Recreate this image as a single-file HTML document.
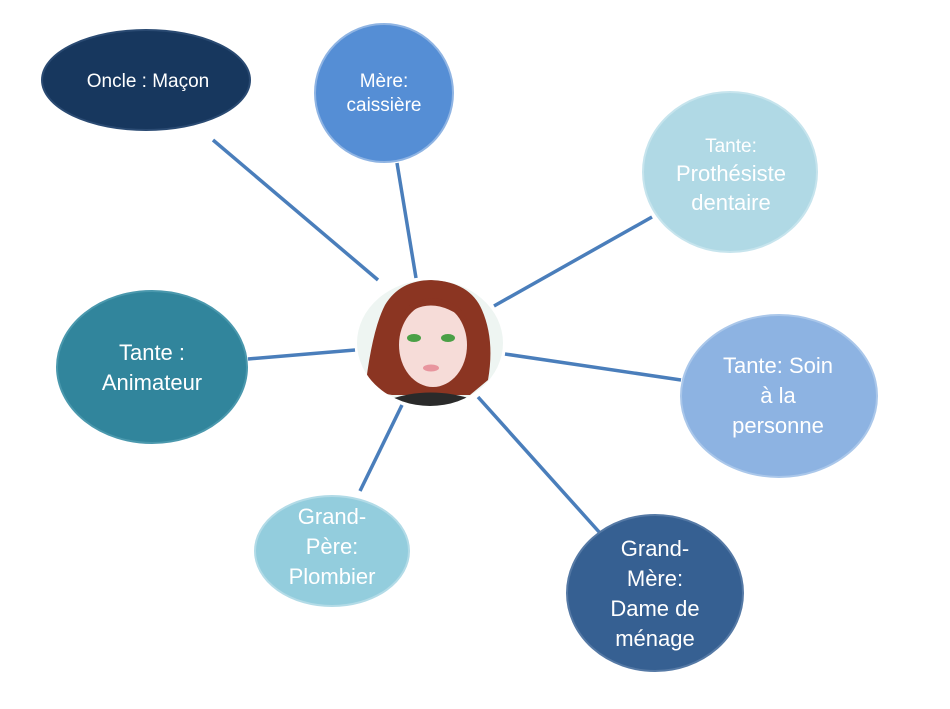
<!DOCTYPE html>
<html><head><meta charset="utf-8"><style>
html,body{margin:0;padding:0;background:#fff;}
svg{display:block;}
text{font-family:"Liberation Sans",sans-serif;fill:#fff;text-anchor:middle;}
</style></head><body>
<svg width="950" height="709" viewBox="0 0 950 709" xmlns="http://www.w3.org/2000/svg">
<g stroke="#4a7ebb" stroke-width="3.5" stroke-linecap="butt">
<line x1="213" y1="140" x2="378" y2="280"/>
<line x1="397" y1="163" x2="416" y2="278"/>
<line x1="652" y1="217" x2="494" y2="306"/>
<line x1="248" y1="359" x2="355" y2="350"/>
<line x1="505" y1="354" x2="681" y2="380"/>
<line x1="478" y1="397" x2="600" y2="533"/>
<line x1="402" y1="405" x2="360" y2="491"/>
</g>
<g stroke-width="2">
<ellipse cx="146" cy="80" rx="104" ry="50" fill="#17375e" stroke="#2a4a72"/>
<ellipse cx="384" cy="93" rx="69" ry="69" fill="#558ed5" stroke="#8fb4e3"/>
<ellipse cx="730" cy="172" rx="87" ry="80" fill="#b0d9e5" stroke="#c6e4ed"/>
<ellipse cx="152" cy="367" rx="95" ry="76" fill="#31859c" stroke="#4a98ad"/>
<ellipse cx="779" cy="396" rx="98" ry="81" fill="#8db3e2" stroke="#aac7ea"/>
<ellipse cx="332" cy="551" rx="77" ry="55" fill="#93cddd" stroke="#b2dbe7"/>
<ellipse cx="655" cy="593" rx="88" ry="78" fill="#366092" stroke="#5579a5"/>
</g>
<!-- avatar -->
<defs><clipPath id="c"><ellipse cx="430" cy="343" rx="73" ry="63"/></clipPath></defs>
<ellipse cx="430" cy="343" rx="73" ry="63" fill="#eef5f2"/>
<g clip-path="url(#c)">
<path d="M365 390 Q372 330 385 305 Q400 280 432 280 Q470 282 482 310 Q495 340 488 380 L470 395 L392 395 Z" fill="#8b3522"/>
<path d="M388 400 Q430 385 475 400 L480 420 L385 420 Z" fill="#2a2a2a"/>
<ellipse cx="433" cy="345" rx="34" ry="42" fill="#f6dcd8"/>
<path d="M400 320 Q430 290 468 322 Q460 300 432 298 Q405 300 400 320 Z" fill="#8b3522"/>
<ellipse cx="414" cy="338" rx="7" ry="4" fill="#4aa046"/>
<ellipse cx="448" cy="338" rx="7" ry="4" fill="#4aa046"/>
<ellipse cx="431" cy="368" rx="8" ry="3.5" fill="#e8959e"/>
</g>
<g font-size="19">
<text x="148" y="87">Oncle : Maçon</text>
<text x="384" y="87">Mère:</text>
<text x="384" y="111">caissière</text>
<text x="731" y="152" font-size="19">Tante:</text>
<text x="731" y="181" font-size="22">Prothésiste</text>
<text x="731" y="210" font-size="22">dentaire</text>
<text x="152" y="360" font-size="22">Tante  :</text>
<text x="152" y="390" font-size="22">Animateur</text>
<text x="778" y="373" font-size="22">Tante: Soin</text>
<text x="778" y="403" font-size="22">à la</text>
<text x="778" y="433" font-size="22">personne</text>
<text x="332" y="524" font-size="22">Grand-</text>
<text x="332" y="554" font-size="22">Père:</text>
<text x="332" y="584" font-size="22">Plombier</text>
<text x="655" y="556" font-size="22">Grand-</text>
<text x="655" y="586" font-size="22">Mère:</text>
<text x="655" y="616" font-size="22">Dame de</text>
<text x="655" y="646" font-size="22">ménage</text>
</g>
</svg>
</body></html>
